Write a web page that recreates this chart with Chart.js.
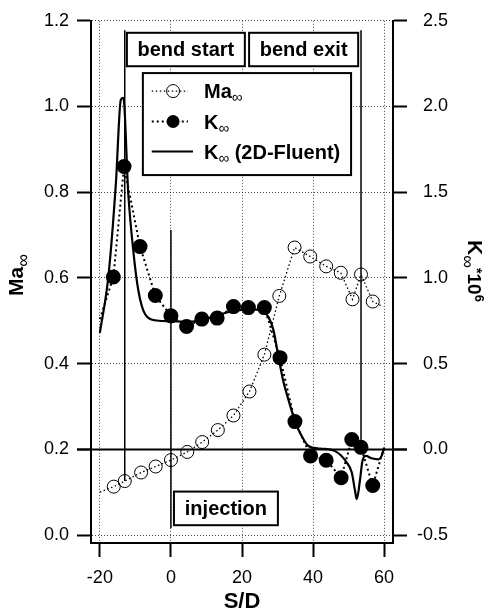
<!DOCTYPE html>
<html>
<head>
<meta charset="utf-8">
<script src="https://cdn.jsdelivr.net/npm/chart.js@4"></script>
<style>
    body { margin: 0; background: #fff; }
    #caixa { width: 484px; height: 615px; }
</style>
</head>
<body>
<div id="caixa"><canvas id="myChart" width="484" height="615"></canvas></div>
<script>
// valores (S/D no eixo x)
// primeiro e ultimo ponto de Ma e K sao so as pontas da linha pontilhada
const maSD = [-20, -16.1, -13, -8.4, -4.3, 0, 4.6, 8.8, 13.2, 17.6, 22.1, 26.3, 30.5, 34.8, 39.2, 43.7, 47.8, 51.1, 53.5, 56.8, 59.7];
const maVal = [0.100, 0.113, 0.126, 0.146, 0.160, 0.175, 0.194, 0.217, 0.245, 0.279, 0.335, 0.421, 0.558, 0.671, 0.650, 0.627, 0.612, 0.550, 0.608, 0.545, 0.533];

const kSD = [-20, -16.2, -13.2, -8.7, -4.4, 0, 4.4, 8.7, 13.0, 17.6, 21.8, 26.3, 30.7, 34.9, 39.3, 43.7, 47.9, 50.9, 53.5, 56.8, 59.8];
const kVal = [0.76, 1.006, 1.65, 1.183, 0.898, 0.779, 0.717, 0.760, 0.766, 0.833, 0.827, 0.827, 0.535, 0.162, -0.038, -0.063, -0.165, 0.058, 0.012, -0.211, 0.0];

const fluentSD = [-20, -17.6, -15.5, -14.1, -13.4, -12.0, -10.6, -9.2, -7.3, -4, 0, 4, 8, 12, 16, 20, 24, 26, 27.5, 28.8, 30.3, 31.6, 33.5, 34.9, 36.5, 38.7, 42, 46.2, 49.5, 50.9, 51.8, 52.3, 53.2, 53.9, 54.9, 56.5, 58.4, 59.3, 60];
const fluentVal = [0.68, 1.01, 1.55, 2.04, 2.05, 1.49, 1.16, 0.93, 0.79, 0.752, 0.748, 0.745, 0.752, 0.775, 0.80, 0.814, 0.815, 0.805, 0.77, 0.70, 0.535, 0.40, 0.26, 0.164, 0.09, 0.02, 0.005, -0.01, -0.077, -0.135, -0.24, -0.29, -0.18, -0.067, -0.038, -0.052, -0.058, -0.038, 0.01];

const xTicks = [-20, 0, 20, 40, 60];
const maTicks = [0, 0.2, 0.4, 0.6, 0.8, 1.0, 1.2];
const kTicks = [-0.5, 0, 0.5, 1.0, 1.5, 2.0, 2.5];

// linhas verticais: bend start, injection, bend exit (em unidades de Ma)
const marcaSD = [-13, 0, 53.5];
const marcaTopo = [1.178, 0.712, 1.178];
const marcaBase = [0.126, 0.016, 0.205];

const fonte = 'Arial, "Liberation Sans", Helvetica, sans-serif';

function pontos(xs, ys) {
    return xs.map(function (x, i) { return { x: x, y: ys[i] }; });
}

// so as pontas nao levam marcador
function raioPontas(ctx) {
    const n = ctx.dataset.data.length;
    return (ctx.dataIndex === 0 || ctx.dataIndex === n - 1) ? 0 : 6.5;
}

// escreve varios pedacos de texto (fontes diferentes) em sequencia
function textoRico(ctx, partes, x, y, alinhar) {
    ctx.textAlign = 'left';
    let largura = 0;
    partes.forEach(function (p) { ctx.font = p[1]; largura += ctx.measureText(p[0]).width; });
    let x0 = alinhar === 'center' ? x - largura / 2 : x;
    partes.forEach(function (p) {
        ctx.font = p[1];
        ctx.fillText(p[0], x0, y + (p[2] || 0));
        x0 += ctx.measureText(p[0]).width;
    });
}

function caixaTexto(ctx, esq, topo, dir, base, txt) {
    ctx.fillStyle = '#fff';
    ctx.fillRect(esq, topo, dir - esq, base - topo);
    ctx.strokeStyle = '#000';
    ctx.lineWidth = 2;
    ctx.setLineDash([]);
    ctx.strokeRect(esq, topo, dir - esq, base - topo);
    ctx.fillStyle = '#000';
    ctx.font = 'bold 20px ' + fonte;
    ctx.textAlign = 'center';
    ctx.textBaseline = 'middle';
    ctx.fillText(txt, (esq + dir) / 2, (topo + base) / 2 + 1);
}

const extras = {
    id: 'extras',
    beforeDraw: function (chart) {
        const ctx = chart.ctx;
        ctx.save();
        ctx.fillStyle = '#fff';
        ctx.fillRect(0, 0, chart.width, chart.height);
        ctx.restore();
    },
    afterDatasetsDraw: function (chart) {
        const ctx = chart.ctx;
        const x = chart.scales.x;
        const y = chart.scales.y;
        const y2 = chart.scales.y2;
        const area = chart.chartArea;
        ctx.save();

        // linha do zero de K
        const yz = y2.getPixelForValue(0);
        ctx.strokeStyle = '#000';
        ctx.lineWidth = 2;
        ctx.beginPath();
        ctx.moveTo(area.left - 14, yz);
        ctx.lineTo(area.right + 14, yz);
        ctx.stroke();

        caixaTexto(ctx, x.getPixelForValue(-12.4), y.getPixelForValue(1.172), x.getPixelForValue(20.8), y.getPixelForValue(1.094), 'bend start');
        caixaTexto(ctx, x.getPixelForValue(22), y.getPixelForValue(1.172), x.getPixelForValue(52.7), y.getPixelForValue(1.094), 'bend exit');
        caixaTexto(ctx, x.getPixelForValue(0.85), y.getPixelForValue(0.1015), x.getPixelForValue(30.1), y.getPixelForValue(0.023), 'injection');

        // legenda
        const lx1 = x.getPixelForValue(-7.9), lx2 = x.getPixelForValue(50.7);
        const ly1 = y.getPixelForValue(1.078), ly2 = y.getPixelForValue(0.84);
        ctx.fillStyle = '#fff';
        ctx.fillRect(lx1, ly1, lx2 - lx1, ly2 - ly1);
        ctx.lineWidth = 2;
        ctx.strokeRect(lx1, ly1, lx2 - lx1, ly2 - ly1);

        const s1 = x.getPixelForValue(-5.4), s2 = x.getPixelForValue(4.8), sm = x.getPixelForValue(0.6);
        const tx = x.getPixelForValue(9.3);
        const linhas = [y.getPixelForValue(1.036), y.getPixelForValue(0.965), y.getPixelForValue(0.895)];

        // Ma
        ctx.lineWidth = 1.3;
        ctx.setLineDash([1.5, 2.5]);
        ctx.beginPath(); ctx.moveTo(s1, linhas[0]); ctx.lineTo(s2, linhas[0]); ctx.stroke();
        ctx.setLineDash([]);
        ctx.lineWidth = 1;
        ctx.beginPath(); ctx.arc(sm, linhas[0], 6.5, 0, Math.PI * 2); ctx.stroke();
        // K
        ctx.lineWidth = 2;
        ctx.setLineDash([2, 3]);
        ctx.beginPath(); ctx.moveTo(s1, linhas[1]); ctx.lineTo(s2, linhas[1]); ctx.stroke();
        ctx.setLineDash([]);
        ctx.fillStyle = '#000';
        ctx.beginPath(); ctx.arc(sm, linhas[1], 6.5, 0, Math.PI * 2); ctx.fill();
        // Fluent
        ctx.lineWidth = 2.2;
        ctx.beginPath(); ctx.moveTo(s1, linhas[2]); ctx.lineTo(x.getPixelForValue(6.2), linhas[2]); ctx.stroke();

        ctx.fillStyle = '#000';
        ctx.textBaseline = 'alphabetic';
        const negrito = 'bold 20px ' + fonte;
        const sub = '15px ' + fonte;
        textoRico(ctx, [['Ma', negrito], ['\u221E', sub, 4]], tx, linhas[0] + 7);
        textoRico(ctx, [['K', negrito], ['\u221E', sub, 4]], tx, linhas[1] + 7);
        textoRico(ctx, [['K', negrito], ['\u221E', sub, 4], [' (2D-Fluent)', negrito]], tx, linhas[2] + 7);

        ctx.restore();
    },
    afterDraw: function (chart) {
        const ctx = chart.ctx;
        ctx.save();
        ctx.fillStyle = '#000';
        ctx.textBaseline = 'alphabetic';

        // S/D
        ctx.textAlign = 'center';
        ctx.font = 'bold 22px ' + fonte;
        ctx.fillText('S/D', 242, 608);

        // Ma (esquerda, de baixo para cima)
        ctx.save();
        ctx.translate(23, 275);
        ctx.rotate(-Math.PI / 2);
        textoRico(ctx, [['Ma', 'bold 21px ' + fonte], ['\u221E', '18px ' + fonte, 6]], 0, 0, 'center');
        ctx.restore();

        // K*10^6 (direita, de cima para baixo)
        ctx.save();
        ctx.translate(468, 271);
        ctx.rotate(Math.PI / 2);
        textoRico(ctx, [
            ['K', 'bold 21px ' + fonte],
            ['\u221E', '18px ' + fonte, 6],
            ['*', 'bold 14px ' + fonte, -4],
            ['10', 'bold 19px ' + fonte],
            ['6', 'bold 13px ' + fonte, -7]
        ], 0, 0, 'center');
        ctx.restore();

        ctx.restore();
    }
};

const marcas = marcaSD.map(function (s, i) {
    return {
        data: [{ x: s, y: marcaTopo[i] }, { x: s, y: marcaBase[i] }],
        borderColor: '#000',
        borderWidth: 1.5,
        pointRadius: 0,
        yAxisID: 'y',
        order: 3
    };
});

const ctx = document.getElementById('myChart');

new Chart(ctx, {
    type: 'line',
    data: {
        datasets: [{
            label: 'K',
            data: pontos(kSD, kVal),
            yAxisID: 'y2',
            borderColor: '#000',
            borderWidth: 2,
            borderDash: [2, 3],
            pointRadius: raioPontas,
            pointBackgroundColor: '#000',
            pointBorderColor: '#000',
            order: 0
        }, {
            label: 'Ma',
            data: pontos(maSD, maVal),
            yAxisID: 'y',
            borderColor: '#000',
            borderWidth: 1.3,
            borderDash: [1.5, 2.5],
            pointRadius: raioPontas,
            pointBorderWidth: 1,
            pointBackgroundColor: 'rgba(0,0,0,0)',
            pointBorderColor: '#000',
            order: 1
        }, {
            label: 'K (2D-Fluent)',
            data: pontos(fluentSD, fluentVal),
            yAxisID: 'y2',
            borderColor: '#000',
            borderWidth: 2.2,
            pointRadius: 0,
            cubicInterpolationMode: 'monotone',
            order: 2
        }].concat(marcas)
    },
    options: {
        responsive: false,
        animation: false,
        events: [],
        layout: { padding: { top: 15, left: 0, right: 36, bottom: 0 } },
        plugins: {
            legend: { display: false },
            tooltip: { enabled: false }
        },
        scales: {
            x: {
                type: 'linear',
                position: 'bottom',
                min: -22.5,
                max: 62.5,
                afterBuildTicks: function (s) { s.ticks = xTicks.map(function (v) { return { value: v }; }); },
                afterFit: function (s) { s.height = 72; },
                ticks: {
                    color: '#000',
                    font: { family: fonte, size: 18 },
                    padding: 10,
                    maxRotation: 0,
                    callback: function (v) { return String(v); }
                },
                grid: {
                    color: '#444',
                    lineWidth: 1,
                    tickLength: 14,
                    tickWidth: 2,
                    tickColor: '#000',
                    tickBorderDash: []
                },
                border: { color: '#000', width: 2, dash: [1, 2] }
            },
            y: {
                type: 'linear',
                position: 'left',
                min: -0.0185,
                max: 1.2,
                afterBuildTicks: function (s) { s.ticks = maTicks.map(function (v) { return { value: v }; }); },
                afterFit: function (s) { s.width = 91; },
                ticks: {
                    color: '#000',
                    font: { family: fonte, size: 18 },
                    padding: 8,
                    callback: function (v) { return v.toFixed(1); }
                },
                grid: {
                    color: '#444',
                    lineWidth: 1,
                    tickLength: 14,
                    tickWidth: 2,
                    tickColor: '#000',
                    tickBorderDash: []
                },
                border: { color: '#000', width: 2, dash: [1, 2] }
            },
            y2: {
                type: 'linear',
                position: 'right',
                min: -0.546,
                max: 2.5,
                afterBuildTicks: function (s) { s.ticks = kTicks.map(function (v) { return { value: v }; }); },
                afterFit: function (s) { s.width = 55; },
                ticks: {
                    color: '#000',
                    font: { family: fonte, size: 18 },
                    padding: 10,
                    crossAlign: 'far',
                    callback: function (v) { return v.toFixed(1); }
                },
                grid: {
                    drawOnChartArea: false,
                    tickLength: 14,
                    tickWidth: 2,
                    tickColor: '#000'
                },
                border: { color: '#000', width: 2 }
            }
        }
    },
    plugins: [extras]
});
</script>
</body>
</html>
